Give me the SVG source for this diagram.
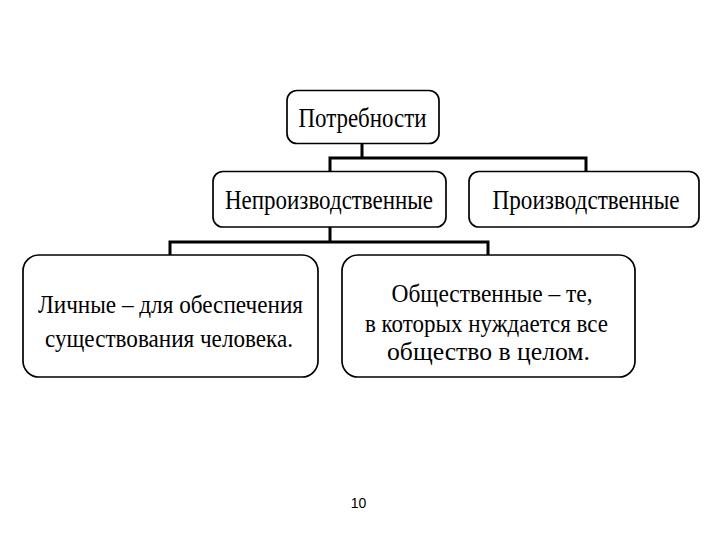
<svg xmlns="http://www.w3.org/2000/svg" width="720" height="540" viewBox="0 0 720 540">
<style>
.box{fill:#fff;stroke:#000;stroke-width:1.7}
.t{font-family:"Liberation Serif","Times New Roman",serif;font-size:27px;fill:#000;text-anchor:middle}
.s{font-size:25px}
.c{fill:none;stroke:#000;stroke-width:3;stroke-linecap:square}
.n{font-family:"Liberation Sans",Arial,sans-serif;font-size:14px;fill:#000;text-anchor:middle}
</style>
<rect width="720" height="540" fill="#fff"/>
<g id="connectors">
<path class="c" d="M362 143V158M330 158H586M330 158V171M586 158V171"/>
<path class="c" d="M330 227V242M170 242H488M170 242V255M488 242V255"/>
</g>
<g id="n1"><rect class="box" x="287" y="90.5" width="152" height="53" rx="10"/><text class="t" x="362.5" y="127" textLength="128" lengthAdjust="spacingAndGlyphs">Потребности</text></g>
<g id="n2"><rect class="box" x="213" y="171.5" width="233" height="55.5" rx="10"/><text class="t" x="329" y="209" textLength="208" lengthAdjust="spacingAndGlyphs">Непроизводственные</text></g>
<g id="n3"><rect class="box" x="469" y="171.5" width="230" height="55.5" rx="10"/><text class="t" x="586" y="209" textLength="187" lengthAdjust="spacingAndGlyphs">Производственные</text></g>
<g id="n4"><rect class="box" x="23" y="255" width="295" height="122" rx="16"/><text class="t s" x="170.5" y="313" textLength="265" lengthAdjust="spacingAndGlyphs">Личные – для обеспечения</text><text class="t s" x="169" y="346.5" textLength="248" lengthAdjust="spacingAndGlyphs">существования человека.</text></g>
<g id="n5"><rect class="box" x="342" y="255" width="293" height="122" rx="16"/><text class="t s" x="492" y="301.5" textLength="201" lengthAdjust="spacingAndGlyphs">Общественные – те,</text><text class="t s" x="486.5" y="331.5" textLength="243" lengthAdjust="spacingAndGlyphs">в которых нуждается все</text><text class="t s" x="488.5" y="360" textLength="203" lengthAdjust="spacingAndGlyphs">общество в целом.</text></g>
<text class="n" x="358.5" y="508">10</text>
</svg>
